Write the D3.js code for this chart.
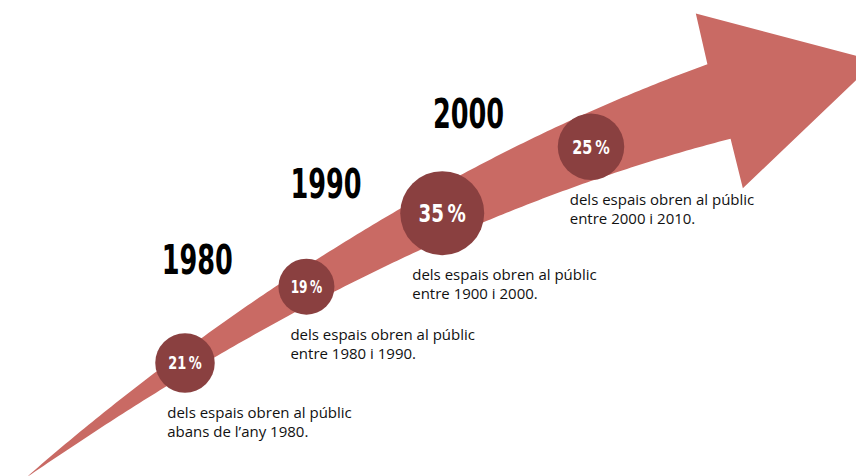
<!doctype html>
<html lang="ca">

<head>
    <meta charset="UTF-8" />
    <script src="https://d3js.org/d3.v7.min.js"></script>
    <title>Obertura dels espais</title>
    <style>
        body { margin: 0; background: #fff; }
    </style>
</head>

<body>
    <div id="chart"></div>
    <script>
        const shares = [21, 19, 35, 25]                   // % of spaces
        const periodMid = [1975, 1985, 1995, 2005]        // centre of each period
        const periodText = ["abans de l’any 1980.", "entre 1980 i 1990.", "entre 1900 i 2000.", "entre 2000 i 2010."]
        const leadText = "dels espais obren al públic"
        const decadeYears = [1980, 1990, 2000]

        const W = 856
        const H = 476

        const arrowColor = "#c96a64"
        const dotColor = "#8a4040"
        const condensed = "'Liberation Sans Narrow', 'DejaVu Sans Condensed', sans-serif"

        const svg = d3.select("#chart")
            .append("svg")
            .attr("width", W)
            .attr("height", H)

        // Time runs along the arrow, slightly accelerating to the right
        const ORIGIN = 1940
        const x = d3.scalePow().exponent(1.5)
            .domain(d3.extent(periodMid).map(d => d - ORIGIN))
            .range([185, 591])
        const px = yr => x(yr - ORIGIN)

        // Arrow spine (gentle bend) and its widening shaft
        const spine = v => 498.1 - 0.7925 * v + 0.000335 * v * v
        const slope = v => -0.7925 + 0.00067 * v
        const x0 = 27, x1 = 719
        const halfW = d3.scalePow().exponent(0.9).domain([0, x1 - x0]).range([0, 39])

        function frame(v) {
            const m = slope(v), n = Math.hypot(1, m)
            return { p: [v, spine(v)], t: [1 / n, m / n], up: [m / n, -1 / n] }
        }
        const off = (f, a, b) => [f.p[0] + f.up[0] * a + f.t[0] * b, f.p[1] + f.up[1] * a + f.t[1] * b]

        const samples = d3.range(x0, x1 + 0.1, 4)
        const upper = samples.map(v => off(frame(v), halfW(v - x0), 0))
        const lower = samples.map(v => off(frame(v), -halfW(v - x0), 0)).reverse()

        const end = frame(x1)
        const head = [
            off(end, 91, 4),      // top barb
            off(end, -8, 162),    // tip
            off(end, -90, -3)     // bottom barb
        ]

        svg.append("path")
            .attr("d", d3.line()(upper.concat(head, lower)) + "Z")
            .attr("fill", arrowColor)

        // Condensed bold look: squeeze the available bold face to the width used in the original
        function squeeze(sel, emWidth) {
            sel.each(function () {
                const node = d3.select(this)
                const size = parseFloat(node.style("font-size"))
                const len = this.getComputedTextLength()
                const k = Math.min(1, emWidth * size / len)
                node.attr("transform", `translate(${node.attr("data-x")},${node.attr("data-y")}) scale(${k},1)`)
            })
        }

        // Stages
        const rScale = d3.scaleLinear().domain(d3.extent(shares)).range([28, 42])
        const stages = shares.map((s, i) => {
            const cx = px(periodMid[i])
            return { share: s, cx: cx, cy: spine(cx), r: rScale(s), text: periodText[i] }
        })

        svg.selectAll(".dot")
            .data(stages)
            .join("circle")
            .attr("class", "dot")
            .attr("cx", d => d.cx)
            .attr("cy", d => d.cy)
            .attr("r", d => d.r)
            .attr("fill", dotColor)

        svg.selectAll(".pct")
            .data(stages)
            .join("text")
            .attr("class", "pct")
            .attr("data-x", d => d.cx)
            .attr("data-y", d => d.cy + d.r * 0.21)
            .attr("text-anchor", "middle")
            .attr("fill", "#fff")
            .style("font-family", condensed)
            .style("font-weight", "bold")
            .style("font-size", d => `${d.r * 0.6}px`)
            .text(d => `${d.share}\u202F%`)
            .call(squeeze, 1.88)

        const caption = svg.selectAll(".caption")
            .data(stages)
            .join("text")
            .attr("class", "caption")
            .attr("x", d => d.cx - d.r + 12)
            .attr("y", d => d.cy + d.r + 25)
            .attr("fill", "#111")
            .style("font-family", "'Open Sans', sans-serif")
            .style("font-size", "15px")

        caption.append("tspan").text(leadText)
        caption.append("tspan")
            .attr("x", d => d.cx - d.r + 12)
            .attr("dy", 19)
            .text(d => d.text)

        // Decade markers
        svg.selectAll(".decade")
            .data(decadeYears)
            .join("text")
            .attr("class", "decade")
            .attr("data-x", d => px(d) - 11)
            .attr("data-y", d => spine(px(d)) - 51)
            .attr("text-anchor", "end")
            .attr("fill", "#000")
            .style("font-family", condensed)
            .style("font-weight", "bold")
            .style("font-size", "40px")
            .text(d => d)
            .call(squeeze, 1.78)
    </script>
</body>

</html>
